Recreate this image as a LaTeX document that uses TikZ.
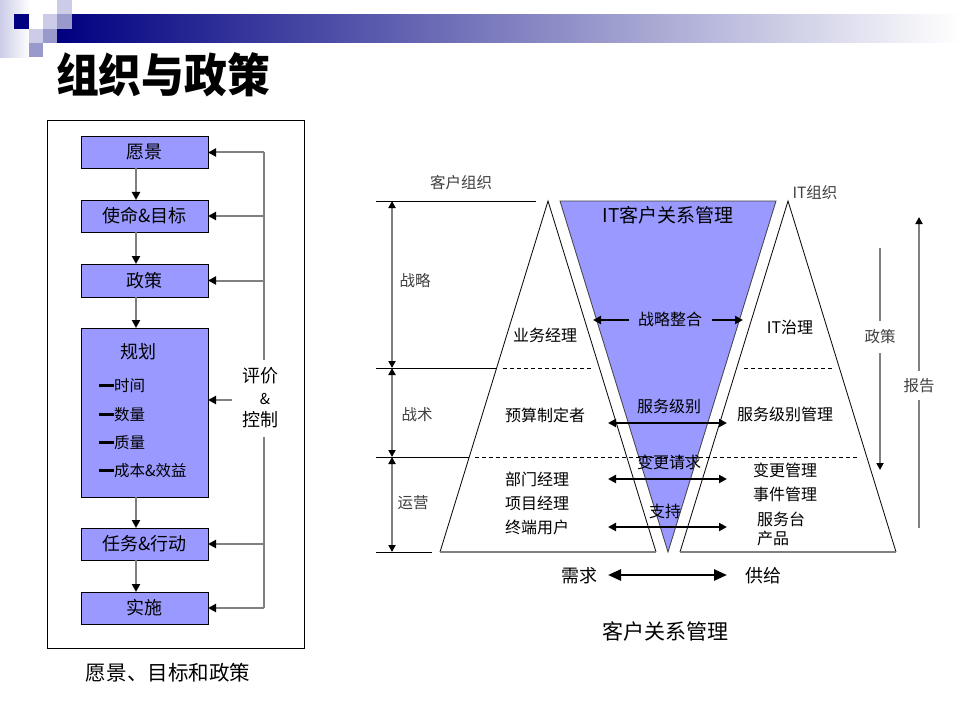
\documentclass[tikz,border=0pt]{standalone}
\usepackage{fontspec}
\setmainfont{Noto Sans CJK SC}
\usetikzlibrary{arrows.meta}
\definecolor{boxblue}{HTML}{9999FF}
\definecolor{navyc}{HTML}{000080}
\definecolor{lightsq}{HTML}{CCCCE8}
\definecolor{medsq}{HTML}{9999CC}
\definecolor{linegray}{HTML}{808080}
\definecolor{labgray}{HTML}{404040}
\newcommand\myfs[1]{\fontsize{#1bp}{#1bp}\selectfont}
\begin{document}
\begin{tikzpicture}[x=1bp,y=-1bp,
  every node/.style={inner sep=0pt,outer sep=0pt},
  box/.style={draw=black,line width=1bp,fill=boxblue,minimum width=127bp,font=\myfs{18}},
  flow/.style={draw=linegray,line width=2bp,-{Triangle[length=8bp,width=8bp,color=black]}},
  fbline/.style={draw=linegray,line width=2bp},
  item/.style={anchor=west,font=\myfs{15.5}},
  lab/.style={font=\myfs{16}},
  glab/.style={font=\myfs{15.5},text=labgray},
  barr/.style={draw=black,line width=2.5bp,-{Triangle[length=8bp,width=8bp]}},
  bdbl/.style={draw=black,line width=2.5bp,{Triangle[length=8bp,width=8bp]}-{Triangle[length=8bp,width=8bp]}},
  gdbl/.style={draw=linegray,line width=2bp,{Triangle[length=7bp,width=7bp,color=black]}-{Triangle[length=7bp,width=7bp,color=black]}},
  garr/.style={draw=linegray,line width=2bp,-{Triangle[length=7bp,width=7bp,color=black]}},
  thinln/.style={draw=black,line width=0.8bp},
  dashln/.style={draw=black,line width=0.8bp,dash pattern=on 4bp off 3bp}]
\useasboundingbox (0,0) rectangle (960,720);
\fill[white] (0,0) rectangle (960,720);
% ---------- header ----------
\shade[left color=lightsq,right color=white] (0,0) rectangle (30,57.2);
\shade[left color=navyc,right color=white] (57.2,14.3) rectangle (960,42.9);
\fill[white] (28.6,14.3) rectangle (57.2,28.6);
\fill[navyc] (14.3,14.3) rectangle (28.6,28.6);
\fill[lightsq] (57.2,0) rectangle (71.5,14.3);
\fill[lightsq] (42.9,14.3) rectangle (57.2,28.6);
\fill[medsq] (57.2,14.3) rectangle (71.5,28.6);
\fill[lightsq] (28.6,28.6) rectangle (42.9,42.9);
\fill[medsq] (42.9,28.6) rectangle (57.2,42.9);
\fill[medsq] (28.6,42.9) rectangle (42.9,57.2);
\node[anchor=west,font=\bfseries\myfs{42},yscale=1.1,xscale=1.02] (title) at (56,75) {组织与政策};
% ---------- left panel ----------
\node[draw=black,line width=1bp,minimum width=256bp,minimum height=527bp] (panel) at (176,384.5) {};
\node[box,minimum height=31bp] (b1) at (144.5,152.5) {愿景};
\node[box,minimum height=32bp] (b2) at (144.5,216) {使命\&目标};
\node[box,minimum height=33bp] (b3) at (144.5,280.5) {政策};
\node[box,minimum height=169bp] (b4) at (144.5,412.5) {};
\node[box,minimum height=32bp] (b5) at (144.5,544) {任务\&行动};
\node[box,minimum height=32bp] (b6) at (144.5,608) {实施};
\node[font=\myfs{18}] (plan) at (138,352) {规划};
\node[item] (i1) at (99,386) {\rule[4.5bp]{15bp}{3bp}时间};
\node[item] (i2) at (99,415) {\rule[4.5bp]{15bp}{3bp}数量};
\node[item] (i3) at (99,443) {\rule[4.5bp]{15bp}{3bp}质量};
\node[item] (i4) at (99,471) {\rule[4.5bp]{15bp}{3bp}成本\&效益};
\coordinate (ax) at (136,0);
\draw[flow] (b1.south -| ax) -- (b2.north -| ax);
\draw[flow] (b2.south -| ax) -- (b3.north -| ax);
\draw[flow] (b3.south -| ax) -- (b4.north -| ax);
\draw[flow] (b4.south -| ax) -- (b5.north -| ax);
\draw[flow] (b5.south -| ax) -- (b6.north -| ax);
\node[font=\myfs{18}] (ev) at (260,376) {评价};
\node[font=\myfs{15}] (amp) at (265,399) {\&};
\node[font=\myfs{18}] (ctl) at (260,420) {控制};
\coordinate (fb) at (264,0);
\coordinate (fbtop) at (264,360);
\coordinate (fbbot) at (264,437);
\coordinate (fbmid) at (232,400);
\draw[fbline] (b1.east -| fb) -- (fbtop);
\draw[fbline] (fbbot) -- (b6.east -| fb);
\draw[flow] (b1.east -| fb) -- (b1.east);
\draw[flow] (b2.east -| fb) -- (b2.east);
\draw[flow] (b3.east -| fb) -- (b3.east);
\draw[flow] (fbmid) -- (b4.east |- fbmid);
\draw[flow] (b5.east -| fb) -- (b5.east);
\draw[flow] (b6.east -| fb) -- (b6.east);
\node[font=\myfs{20.5}] (cap1) at (168,673) {愿景、目标和政策};
% ---------- right diagram ----------
\coordinate (LA) at (548,201); \coordinate (LL) at (440,552); \coordinate (LR) at (656,552);
\coordinate (RA) at (788,201); \coordinate (RL) at (680,552); \coordinate (RR) at (896,552);
\coordinate (IL) at (560,201); \coordinate (IR) at (776,201); \coordinate (IB) at (668,552);
\fill[boxblue] (IL) -- (IR) -- (IB) -- cycle;
\draw[draw=labgray,line width=0.8bp] (IL) -- (IR) -- (IB) -- cycle;
\filldraw[fill=white,draw=black,line width=0.8bp] (LL) -- (LA) -- (LR);
\filldraw[fill=white,draw=black,line width=0.8bp] (RL) -- (RA) -- (RR);
\draw[draw=linegray,line width=2bp] (LL) -- (LR);
\draw[draw=linegray,line width=2bp] (RL) -- (RR);
% level lines
\coordinate (h1a) at (376,201); \coordinate (h1b) at (536,201);
\coordinate (h2a) at (376,368); \coordinate (h2b) at (496.6,368);
\coordinate (h3a) at (376,457); \coordinate (h3b) at (469.2,457);
\coordinate (h4a) at (376,552); \coordinate (h4b) at (432,552);
\draw[thinln] (h1a) -- (h1b);
\draw[thinln] (h2a) -- (h2b);
\draw[thinln] (h3a) -- (h3b);
\draw[thinln] (h4a) -- (h4b);
\coordinate (d1a) at (503,368); \coordinate (d1b) at (593,368);
\coordinate (d2a) at (744,368); \coordinate (d2b) at (832,368);
\coordinate (d3a) at (475,457); \coordinate (d3b) at (858,457);
\draw[dashln] (d1a) -- (d1b);
\draw[dashln] (d2a) -- (d2b);
\draw[dashln] (d3a) -- (d3b);
% vertical level arrows
\coordinate (v1) at (392,201); \coordinate (v2) at (392,368);
\coordinate (v3) at (392,457); \coordinate (v4) at (392,552);
\draw[gdbl] (v1) -- (v2);
\draw[gdbl] (v2) -- (v3);
\draw[gdbl] (v3) -- (v4);
% labels
\node[glab] (kh) at (461,183) {客户组织};
\node[glab] (itorg) at (815,193) {IT组织};
\node[glab] (zl) at (415,281) {战略};
\node[glab] (zs) at (417,415) {战术};
\node[glab] (yy) at (413,503) {运营};
\node[font=\myfs{19}] (itcrm) at (668,215) {IT客户关系管理};
\node[lab] (zlzh) at (670,319) {战略整合};
\node[lab] (ywjl) at (545,335) {业务经理};
\node[lab] (itzl) at (790,327) {IT治理};
\node[lab] (yszd) at (545,415) {预算制定者};
\node[lab] (fwjb) at (669,406) {服务级别};
\node[lab] (fwjbgl) at (785,414) {服务级别管理};
\node[lab] (bgqq) at (669,462) {变更请求};
\node[lab] (bggl) at (785,470) {变更管理};
\node[lab] (sjgl) at (785,494) {事件管理};
\node[lab] (bmjl) at (537,479) {部门经理};
\node[lab] (xmjl) at (537,503) {项目经理};
\node[lab] (zdyh) at (537,527) {终端用户};
\node[lab] (zc) at (665,511) {支持};
\node[lab,anchor=west] (fwt) at (757,519) {服务台};
\node[lab,anchor=west] (cp) at (757,538) {产品};
\node[glab] (zcpol) at (880,337) {政策};
\node[glab] (bg) at (919,386) {报告};
% arrows
\coordinate (s1a) at (629,320); \coordinate (s1b) at (593,320);
\coordinate (s2a) at (712,320); \coordinate (s2b) at (743,320);
\draw[barr] (s1a) -- (s1b);
\draw[barr] (s2a) -- (s2b);
\coordinate (a1l) at (608,423); \coordinate (a1r) at (727,423);
\coordinate (a2l) at (608,479); \coordinate (a2r) at (727,479);
\coordinate (a3l) at (608,527); \coordinate (a3r) at (727,527);
\draw[bdbl] (a1l) -- (a1r);
\draw[bdbl] (a2l) -- (a2r);
\draw[bdbl] (a3l) -- (a3r);
\coordinate (p1) at (880,248); \coordinate (p2) at (880,321);
\coordinate (p3) at (880,353); \coordinate (p4) at (880,470);
\draw[fbline] (p1) -- (p2);
\draw[garr] (p3) -- (p4);
\coordinate (r1) at (919,528); \coordinate (r2) at (919,400);
\coordinate (r3) at (919,371); \coordinate (r4) at (919,217);
\draw[fbline] (r1) -- (r2);
\draw[garr] (r3) -- (r4);
\node[font=\myfs{18}] (xq) at (579,576) {需求};
\node[font=\myfs{18}] (gj) at (763,576) {供给};
\coordinate (xqe) at (608,575);
\coordinate (gjw) at (727,575);
\draw[draw=black,line width=2.5bp,{Triangle[length=13bp,width=11bp]}-{Triangle[length=13bp,width=11bp]}] (xqe) -- (gjw);
\node[font=\myfs{21}] (crm) at (665,631) {客户关系管理};
\end{tikzpicture}
\end{document}
